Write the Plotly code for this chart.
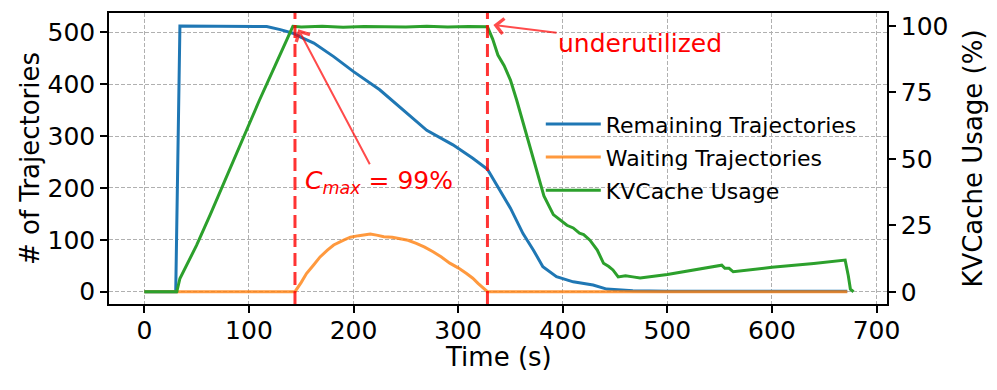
import plotly.graph_objects as go

# Remaining trajectories (count) over time (s)
remaining_t = [0, 30, 34, 60, 100, 117, 130, 142, 150, 162, 181, 200, 225, 244, 270,
               295, 314, 328, 337, 350, 362, 372, 381, 394, 410, 429, 442, 467, 500, 600, 672]
remaining_n = [0, 0, 512, 512, 512, 511, 505, 498, 490, 479, 453, 424, 389, 356, 311,
               283, 257, 236, 206, 161, 112, 80, 48, 29, 19, 13, 5, 2, 1, 1, 1]

# Waiting trajectories (count) over time (s)
waiting_t = [0, 144, 150, 155, 162, 168, 175, 181, 190, 197, 205, 216, 222, 229, 237, 245,
             252, 260, 268, 276, 284, 292, 300, 308, 314, 319, 324, 328, 400, 500, 600, 672]
waiting_n = [0, 0, 18, 35, 52, 67, 80, 90, 99, 105, 108, 111, 109, 106, 105, 102,
             99, 93, 86, 77, 67, 55, 46, 35, 26, 16, 7, 0, 0, 0, 0, 0]

# KV cache usage (%) over time (s)
kv_t = [0, 31, 34, 40, 50, 63, 80, 95, 110, 125, 142, 150, 170, 190, 210, 230, 250, 270,
        290, 310, 328, 333, 338, 344, 350, 356, 364, 372, 378, 382, 391, 397, 404, 410,
        416, 420, 426, 433, 439, 444, 448, 453, 460, 467, 474, 500, 531, 552, 555, 559,
        563, 600, 640, 670, 673, 675, 678]
kv_pct = [0, 0, 5, 9.5, 17.5, 29, 44.5, 58.5, 72, 85, 99.8, 99.5, 99.8, 99.4, 99.7, 99.6, 99.5, 99.8,
          99.5, 99.7, 99.6, 95, 89, 85, 79.6, 72, 61, 50.7, 42, 36, 29, 27, 25, 24,
          22, 21.5, 19.4, 15.7, 10.7, 9.5, 8.2, 5.6, 6, 5.6, 5.2, 6.5, 8.5, 10, 8.8, 8.8,
          7.5, 9.2, 10.6, 11.9, 6, 1, 0]

cmax_time = 144
underutil_time = 328

x_ticks = [0, 100, 200, 300, 400, 500, 600, 700]
y_ticks = [0, 100, 200, 300, 400, 500]
y2_ticks = [0, 25, 50, 75, 100]

FONT = "DejaVu Sans"
BLUE = "#1f77b4"
ORANGE = "rgba(255,127,14,0.8)"
GREEN = "#2ca02c"
RED = "rgba(255,0,0,0.8)"
ARROW_RED = "rgba(255,0,0,0.7)"
GRID = "#b0b0b0"

fig = go.Figure()

fig.add_trace(go.Scatter(x=remaining_t, y=remaining_n, mode="lines",
                         name="Remaining Trajectories", legendgroup="a",
                         line=dict(color=BLUE, width=3)))
fig.add_trace(go.Scatter(x=waiting_t, y=waiting_n, mode="lines",
                         name="Waiting Trajectories", legendgroup="b",
                         line=dict(color=ORANGE, width=3)))
fig.add_trace(go.Scatter(x=kv_t, y=kv_pct, mode="lines", yaxis="y2",
                         name="KVCache Usage", legendgroup="c",
                         line=dict(color=GREEN, width=3)))

axis_common = dict(
    ticks="outside", ticklen=7, tickwidth=1.5, tickcolor="black",
    showline=True, linewidth=1.5, linecolor="black", automargin=False,
    zeroline=False, tickfont=dict(size=25, color="black"),
)

# red dashed markers for C_max and the underutilized point
for t in [cmax_time, underutil_time]:
    fig.add_shape(type="line", x0=t, x1=t, xref="x", yref="paper", y0=0, y1=1,
                  line=dict(color=RED, width=3, dash="13px,6px"))

# text labels with arrows pointing at the two markers
annotations = [
    dict(x=147.2, y=505.6, ax=224.4, ay=212, xref="x", yref="y", axref="x", ayref="y",
         text="<i>C</i><sub><i>max</i></sub> = 99%", font=dict(size=25, color="red"),
         showarrow=True, arrowhead=4, arrowsize=1.5, arrowwidth=2,
         arrowcolor=ARROW_RED),
    dict(x=333.7, y=513.9, ax=473.9, ay=479, xref="x", yref="y", axref="x", ayref="y",
         text="underutilized", font=dict(size=25, color="red"),
         showarrow=True, arrowhead=4, arrowsize=1.5, arrowwidth=2,
         arrowcolor=ARROW_RED),
    # x axis title placed by hand so it sits close to the tick labels
    dict(x=0.5, y=-0.182, xref="paper", yref="paper", showarrow=False,
         text="Time (s)", font=dict(size=26, color="black"),
         xanchor="center", yanchor="middle"),
]

# the page body adds an 8px offset, so margins are shifted to compensate
fig.update_layout(
    width=997, height=390,
    margin=dict(l=101, r=118, t=5, b=94),
    plot_bgcolor="white", paper_bgcolor="white",
    font=dict(family=FONT, color="black"),
    xaxis=dict(range=[-33.8, 710], tickvals=x_ticks, mirror=True,
               showgrid=True, gridcolor=GRID, griddash="4px,2px", gridwidth=1,
               ticklabelstandoff=-4,
               **axis_common),
    yaxis=dict(range=[-23.7, 537], tickvals=y_ticks,
               showgrid=True, gridcolor=GRID, griddash="4px,2px", gridwidth=1,
               title=dict(text="# of Trajectories", font=dict(size=26), standoff=0),
               **axis_common),
    yaxis2=dict(range=[-4.6, 104.8], tickvals=y2_ticks, overlaying="y", side="right",
                showgrid=False,
                title=dict(text="KVCache Usage (%)", font=dict(size=26), standoff=16),
                **axis_common),
    legend=dict(x=0.555, y=0.69, xanchor="left", yanchor="top",
                bgcolor="rgba(0,0,0,0)", borderwidth=0,
                font=dict(size=22), tracegroupgap=1.5, itemwidth=55),
    annotations=annotations,
    showlegend=True,
)

fig.write_html("out.html")
